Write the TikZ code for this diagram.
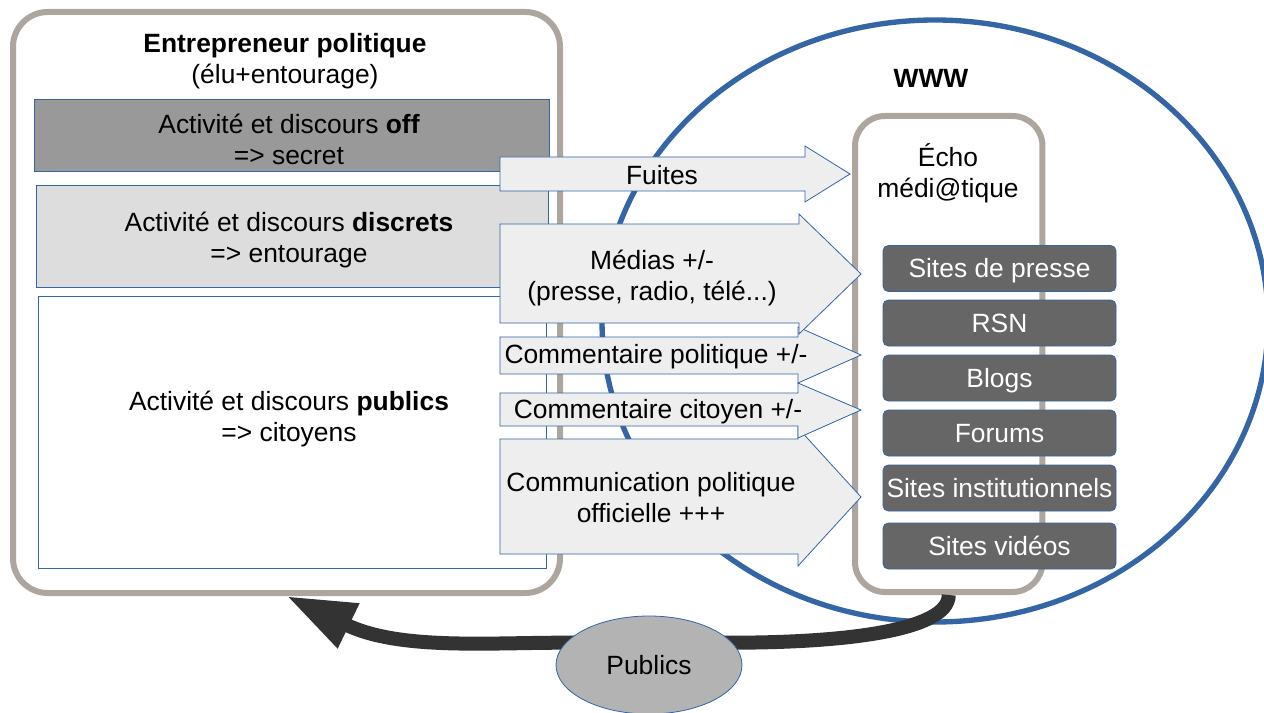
\documentclass[tikz,border=0pt]{standalone}
\usepackage{fontspec}
\setmainfont{Liberation Sans}
\usepackage{tikz}
\usetikzlibrary{shapes.geometric, arrows.meta, positioning}
\usepackage{xcolor}

\definecolor{frameGray}{HTML}{ADA69F}
\definecolor{lineBlue}{HTML}{3465A4}
\definecolor{offGray}{HTML}{999999}
\definecolor{discreetGray}{HTML}{DDDDDD}
\definecolor{flowGray}{HTML}{EEEEEE}
\definecolor{siteGray}{HTML}{666666}
\definecolor{publicGray}{HTML}{B3B3B3}
\definecolor{loopBlack}{HTML}{333333}

\pgfdeclarelayer{front}
\pgfsetlayers{main,front}

\begin{document}
\begin{tikzpicture}[
    x=0.75pt, y=-0.75pt,
    every node/.style = {font=\fontsize{19.8}{23.25}\selectfont},
    frame/.style = {rectangle, draw=frameGray, fill=white, line width=4.5pt},
    layer/.style = {rectangle, draw=lineBlue, line width=0.75pt, inner sep=0pt},
    flow/.style = {draw=lineBlue, fill=flowGray, line width=0.6pt},
    site/.style = {rectangle, draw=lineBlue, fill=siteGray, text=white, rounded corners=4pt, line width=0.6pt, minimum width=174.75pt, minimum height=34.5pt, inner sep=0pt, text height=14.2pt, text depth=0pt},
    feedback/.style = {draw=loopBlack, line width=10.5pt, -{Triangle[length=51.75pt, width=34.5pt]}},
    audience/.style = {ellipse, draw=lineBlue, fill=publicGray, line width=0.6pt, minimum width=139.5pt, minimum height=73.5pt, inner sep=0pt, text height=14.2pt, text depth=0pt}
]
\useasboundingbox (0,0) rectangle (1264,713);

% Web sphere
\node (www) [ellipse, draw=lineBlue, line width=4pt, minimum width=499.5pt, minimum height=451.5pt, inner sep=0pt] at (935,321) {};
\node (wwwLabel) at (931,78) {\textbf{WWW}};

% Political entrepreneur
\node (entrepreneur) [frame, rounded corners=26pt, minimum width=410.25pt, minimum height=435.75pt] at (286.5,302.5) {};
\node (title) [align=center] at (285,61) {\textbf{Entrepreneur politique}\\(élu+entourage)};
\node (offLayer) [layer, fill=offGray, minimum width=386.25pt, minimum height=54pt] at (291.5,136) {};
\node (offText) [align=center] at (289,139.5) {Activité et discours \textbf{off}\\=> secret};
\node (discreetLayer) [layer, fill=discreetGray, minimum width=384pt, minimum height=75.75pt] at (292,236.5) {};
\node (discreetText) [align=center] at (289,240.5) {Activité et discours \textbf{discrets}\\=> entourage};
\node (publicLayer) [layer, fill=white, minimum width=381pt, minimum height=204pt] at (292,432) {};
\node (publicText) [align=center] at (289,419.5) {Activité et discours \textbf{publics}\\=> citoyens};

% Media echo
\node (echo) [frame, rounded corners=22.5pt, minimum width=140.6pt, minimum height=357pt] at (948.75,354) {};
\node (echoText) [align=center] at (948,173.5) {Écho\\médi@tique};
\node (presse) [site] at (999.5,268.5) {Sites de presse};
\node (rsn) [site] at (999.5,323) {RSN};
\node (blogs) [site] at (999.5,378) {Blogs};
\node (forums) [site] at (999.5,433) {Forums};
\node (instit) [site] at (999.5,488) {Sites institutionnels};
\node (videos) [site] at (999.5,546) {Sites vidéos};

% Flows towards the web
\draw [flow] (500,439) -- (798,439) -- (798,428) -- (861,497) -- (798,566) -- (798,554) -- (500,554) -- cycle;
\draw [flow] (500,393) -- (798,393) -- (798,383) -- (861,410) -- (798,438) -- (798,426) -- (500,426) -- cycle;
\draw [flow] (500,337) -- (798,337) -- (798,327) -- (861,355) -- (798,383) -- (798,374) -- (500,374) -- cycle;
\draw [flow] (500,224) -- (799,224) -- (799,214) -- (861,274) -- (799,334) -- (799,323) -- (500,323) -- cycle;
\draw [flow] (500,157) -- (805,157) -- (805,146) -- (850,174) -- (805,202) -- (805,191) -- (500,191) -- cycle;

\node (fuites) at (662,175) {Fuites};
\node (medias) [align=center] at (652,278) {Médias +/-\\(presse, radio, télé...)};
\node (commPol) at (656,357) {Commentaire politique +/-};
\node (commCit) at (658,412) {Commentaire citoyen +/-};
\node (commOff) [align=center] at (651,498) {Communication politique\\officielle +++};

% Feedback loop through the publics
\begin{pgfonlayer}{front}
\node (publics) [audience] at (649,665) {Publics};
\end{pgfonlayer}
\draw [feedback] (echo.south) .. controls +(0,36) and +(110,0) .. (publics.15) -- (publics.165) .. controls +(-80,0) and +(112,54) .. (entrepreneur.south);

\end{tikzpicture}
\end{document}
